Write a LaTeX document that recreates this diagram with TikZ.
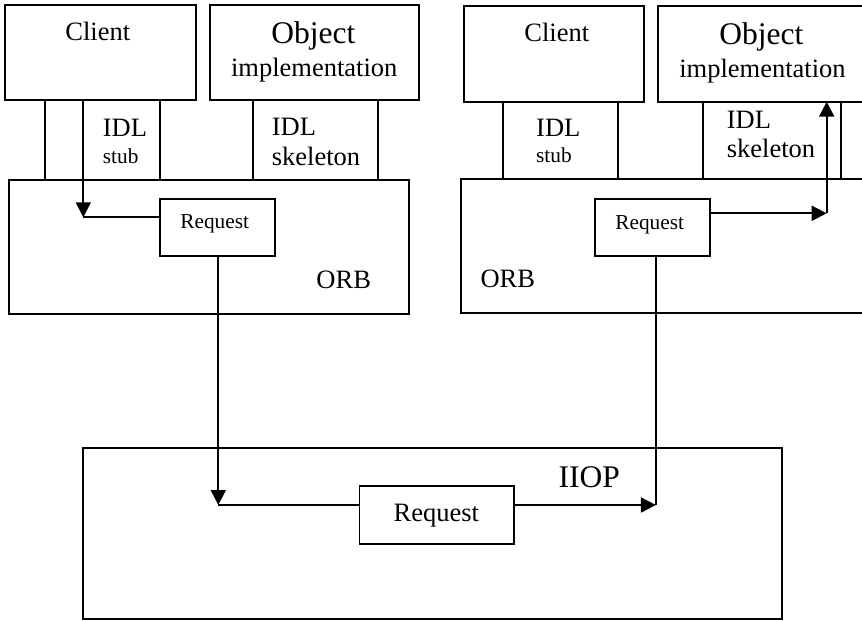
\documentclass[tikz,border=0pt]{standalone}
\usepackage{fontspec}
\setmainfont{Liberation Serif}
\usetikzlibrary{arrows.meta}
\tikzset{
  box/.style={draw, line width=1.8pt, inner sep=0pt, outer sep=0pt, anchor=north west},
  conn/.style={line width=1.8pt},
  arr/.style={line width=1.8pt, -{Triangle[length=15pt,width=15pt]}},
  big/.style={font=\fontsize{31.5}{36}\selectfont, inner sep=0pt},
  mid/.style={font=\fontsize{26.5}{30}\selectfont, inner sep=0pt},
  sml/.style={font=\fontsize{21.3}{25}\selectfont, inner sep=0pt}
}
\begin{document}
\begin{tikzpicture}[x=1pt,y=-1pt]
\useasboundingbox (0,0) rectangle (862,621);
\clip (0,0) rectangle (862,621);
\fill[white] (0,0) rectangle (862,621);
% left side boxes
\node[box, minimum width=191pt, minimum height=95.3pt] (clientL) at (4.7,4.7) {};
\node[box, minimum width=209pt, minimum height=95.3pt] (objL) at (210.3,4.7) {};
\node[box, minimum width=399.7pt, minimum height=134pt] (orbL) at (9,180) {};
\node[box, minimum width=115.3pt, minimum height=57.3pt] (reqL) at (160,198.7) {};
% right side boxes
\node[box, minimum width=179.4pt, minimum height=96pt] (clientR) at (464.3,6) {};
\node[box, minimum width=250pt, minimum height=95.7pt] (objR) at (658.3,6) {};
\node[box, minimum width=450pt, minimum height=134.3pt] (orbR) at (460.7,179) {};
\node[box, minimum width=115.3pt, minimum height=57.3pt] (reqR) at (594.7,198.7) {};
% bottom
\node[box, minimum width=699pt, minimum height=171pt] (iiop) at (83,447.7) {};
\node[box, minimum width=154.2pt, minimum height=58.3pt] (reqB) at (359.4,485.7) {};
% texts left
\node[mid, anchor=base] (tClientL) at (97.8,40.7) {Client};
\node[big, anchor=base] (tObjL) at (313.3,43.3) {Object};
\node[mid, anchor=base] (tImplL) at (314.2,76.7) {implementation};
\node[mid, anchor=base west] (tIdlL) at (102.7,136) {IDL};
\node[sml, anchor=base west] (tStubL) at (102.7,163.3) {stub};
\node[mid, anchor=base west] (tIdlSL) at (271.7,135.7) {IDL};
\node[mid, anchor=base west] (tSkelL) at (271.7,165.7) {skeleton};
\node[sml, anchor=base] (tReqL) at (214.7,228.3) {Request};
\node[mid, anchor=base] (tOrbL) at (343.7,288.3) {ORB};
% texts right
\node[mid, anchor=base] (tClientR) at (556.8,41.7) {Client};
\node[big, anchor=base] (tObjR) at (761.3,44.3) {Object};
\node[mid, anchor=base] (tImplR) at (762.5,77.3) {implementation};
\node[mid, anchor=base west] (tIdlR) at (536,136) {IDL};
\node[sml, anchor=base west] (tStubR) at (536,162.7) {stub};
\node[mid, anchor=base west] (tIdlSR) at (726.7,128.3) {IDL};
\node[mid, anchor=base west] (tSkelR) at (726.7,157.3) {skeleton};
\node[sml, anchor=base] (tReqR) at (649.7,229) {Request};
\node[mid, anchor=base] (tOrbR) at (507.8,287.3) {ORB};
% texts bottom
\node[big, anchor=base] (tIiop) at (589.2,487.7) {IIOP};
\node[mid, anchor=base] (tReqB) at (436.3,521.7) {Request};
% stub / skeleton walls
\draw[conn] (clientL.south -| 44.7,0) -- (orbL.north -| 44.7,0);
\draw[conn] (clientL.south -| 160.3,0) -- (orbL.north -| 160.3,0);
\draw[conn] (objL.south -| 253,0) -- (orbL.north -| 253,0);
\draw[conn] (objL.south -| 378.3,0) -- (orbL.north -| 378.3,0);
\draw[conn] (clientR.south -| 503,0) -- (orbR.north -| 503,0);
\draw[conn] (clientR.south -| 617.7,0) -- (orbR.north -| 617.7,0);
\draw[conn] (objR.south -| 703.3,0) -- (orbR.north -| 703.3,0);
\draw[conn] (objR.south -| 841,0) -- (orbR.north -| 841,0);
% connector corners
\coordinate (c1) at (83.3,217.3);
\coordinate (c2) at (218.3,505);
\coordinate (c3) at (655.9,505);
\coordinate (c4) at (826.7,213.3);
% left flow
\draw[arr] (clientL.south -| c1) -- (c1);
\draw[conn] (c1) -- (c1 -| reqL.west);
\draw[arr] (reqL.south -| c2) -- (c2);
\draw[conn] (c2) -- (c2 -| reqB.west);
\draw[arr] (c2 -| reqB.east) -- (c3);
\draw[conn] (reqR.south -| c3) -- (c3);
% right flow
\draw[arr] (reqR.east |- c4) -- (c4);
\draw[arr] (c4) -- (c4 |- objR.south);
\end{tikzpicture}
\end{document}
